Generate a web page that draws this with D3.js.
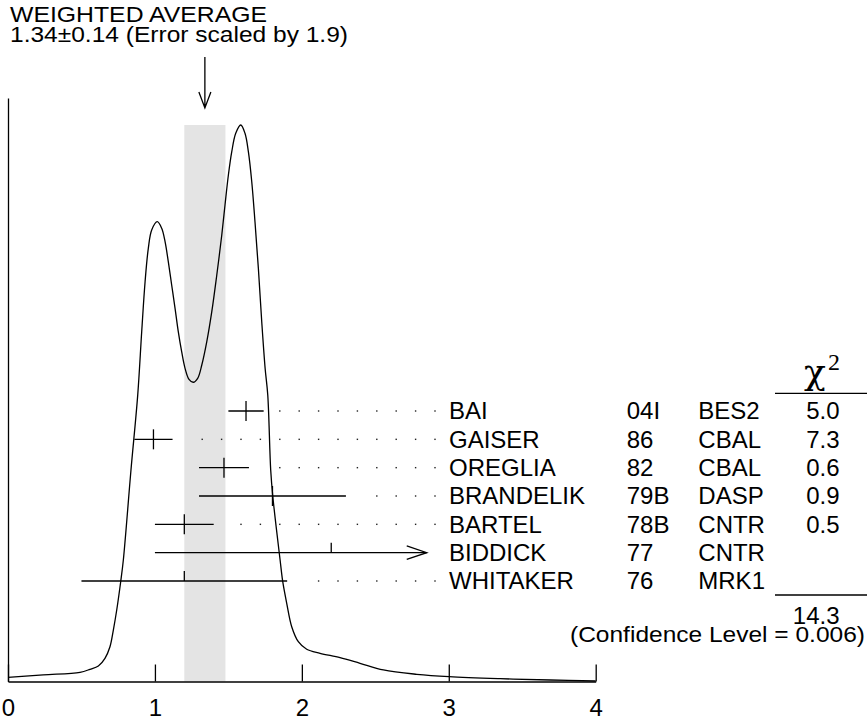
<!DOCTYPE html>
<html><head><meta charset="utf-8">
<script src="https://cdn.jsdelivr.net/npm/d3@7"></script>
<style>
body{margin:0;background:#fff;}
svg text{font-family:"Liberation Sans",Arial,Helvetica,sans-serif;fill:#000;}
</style></head>
<body><svg id="c" width="867" height="721"></svg>
<script>
// ---- data ----
const names = ["BAI","GAISER","OREGLIA","BRANDELIK","BARTEL","BIDDICK","WHITAKER"];
const years = ["04I","86","82","79B","78B","77","76"];
const experiments = ["BES2","CBAL","CBAL","DASP","CNTR","CNTR","MRK1"];
const values = [1.62,0.99,1.47,1.80,1.20,2.20,1.20];
const errLo  = [0.12,0.13,0.17,0.50,0.20,1.20,0.70];
const errHi  = [0.12,0.13,0.17,0.50,0.20,2.00,0.70];
const chi2   = ["5.0","7.3","0.6","0.9","0.5","",""];
const usedInAverage = [true,true,true,true,true,false,false];
const chi2Total = "14.3";
const confidenceLevel = "0.006";
const average = 1.34, averageErr = 0.14, errorScale = 1.9;
const xTicks = [0,1,2,3,4];
const ideogramX = [0,0.24,0.49,0.558,0.615,0.66,0.694,0.717,0.74,0.767,0.785,0.837,0.883,0.91,0.933,0.955,0.978,1.016,1.046,1.069,1.091,1.114,1.137,1.159,1.182,1.205,1.232,1.261,1.291,1.319,1.353,1.387,1.421,1.455,1.477,1.5,1.523,1.55,1.584,1.613,1.636,1.659,1.681,1.704,1.727,1.75,1.768,1.788,1.802,1.852,1.87,1.897,1.931,1.976,2.033,2.124,2.26,2.396,2.555,2.782,3.002,3.349,3.69,4.0];
const ideogramY = [0.0075,0.012,0.0165,0.0219,0.0279,0.0417,0.0625,0.0925,0.1285,0.1793,0.2183,0.38,0.515,0.6286,0.7184,0.7784,0.8113,0.8262,0.8144,0.7903,0.7544,0.7125,0.6706,0.6286,0.5926,0.5628,0.543,0.5377,0.5448,0.5687,0.6106,0.6645,0.7305,0.8023,0.8562,0.9101,0.952,0.9851,1.0,0.9851,0.952,0.8981,0.8262,0.7425,0.6465,0.5628,0.5148,0.3801,0.3333,0.2183,0.1793,0.1405,0.0985,0.0715,0.0579,0.0507,0.0428,0.0327,0.0207,0.0129,0.0086,0.005,0.0027,0.0009];
const barLimit = 2.85;

// ---- layout ----
const svg = d3.select("#c");
const x = d3.scaleLinear().domain([0,4]).range([8,595.7]);
const yD = d3.scaleLinear().domain([0,1]).range([681.5,125]);
const yRow = d3.scalePoint().domain(names).range([411,581]);
const FS = 24;
const sw = 1.3;

// band
svg.append("rect").attr("x",x(average-averageErr)).attr("width",x(average+averageErr)-x(average-averageErr))
  .attr("y",yD(1)).attr("height",yD(0)-yD(1)).attr("fill","#e4e4e4");

// ideogram curve
const pts = ideogramX.map((v,i)=>[v,ideogramY[i]]);
svg.append("path").datum(pts)
  .attr("d",d3.line().x(d=>x(d[0])).y(d=>yD(d[1])).curve(d3.curveCatmullRom.alpha(0.5)))
  .attr("fill","none").attr("stroke","#000").attr("stroke-width",sw);

// axes
const xAxis = d3.axisBottom(x).tickValues(xTicks).tickFormat(d3.format("d"))
  .tickSizeInner(-17).tickSizeOuter(0).tickPadding(17.5);
const gx = svg.append("g").attr("transform","translate(0,681.5)").call(xAxis);
gx.selectAll("path,line").attr("stroke","#000").attr("stroke-width",sw);
gx.selectAll("text").attr("font-size",FS).attr("font-family","Liberation Sans, Arial, sans-serif").attr("fill","#000");

const yAxisScale = d3.scaleLinear().domain([0,1]).range([681.5,98]);
const gy = svg.append("g").attr("transform","translate(8,0)")
  .call(d3.axisLeft(yAxisScale).tickValues([]).tickSizeOuter(0));
gy.selectAll("path").attr("stroke","#000").attr("stroke-width",sw);

// title
svg.append("text").attr("x",10).attr("y",22).attr("font-size",22.5).attr("textLength",257).attr("lengthAdjust","spacingAndGlyphs").text("WEIGHTED AVERAGE");
svg.append("text").attr("x",10).attr("y",42).attr("font-size",22.5).attr("textLength",338).attr("lengthAdjust","spacingAndGlyphs")
  .text(`${average.toFixed(2)}\u00b1${averageErr.toFixed(2)} (Error scaled by ${errorScale})`);
// arrow
const ax = x(average);
svg.append("path").attr("d",`M${ax},57V108M${ax-6},92L${ax},108L${ax+6},92`)
  .attr("fill","none").attr("stroke","#000").attr("stroke-width",sw);

// measurements
const dotEnd = 435, dotStep = 19.4;
names.forEach((n,i)=>{
  const yy = yRow(n);
  const lo = x(values[i]-errLo[i]);
  const hiV = values[i]+errHi[i];
  const clipped = hiV > barLimit;
  const hi = x(Math.min(hiV,barLimit));
  const g = svg.append("g");
  g.append("line").attr("x1",lo).attr("x2",hi).attr("y1",yy).attr("y2",yy)
    .attr("stroke","#000").attr("stroke-width",sw);
  const cx = x(values[i]);
  g.append("line").attr("x1",cx).attr("x2",cx).attr("y1",yy-10).attr("y2",usedInAverage[i]?yy+10:yy)
    .attr("stroke","#000").attr("stroke-width",sw);
  if(clipped){
    g.append("path").attr("d",`M${hi-20},${yy-6.7}L${hi},${yy}L${hi-20},${yy+6.7}`)
      .attr("fill","none").attr("stroke","#000").attr("stroke-width",sw);
  } else {
    for(let dx=dotEnd; dx>=hi+13; dx-=dotStep){
      g.append("rect").attr("x",dx-0.7).attr("y",yy-0.7).attr("width",1.4).attr("height",1.4).attr("fill","#222");
    }
  }
  svg.append("text").attr("x",449).attr("y",yy+8.3).attr("font-size",FS).text(n);
  svg.append("text").attr("x",626.7).attr("y",yy+8.3).attr("font-size",FS).text(years[i]);
  svg.append("text").attr("x",698.3).attr("y",yy+8.3).attr("font-size",FS).text(experiments[i]);
  if(chi2[i]) svg.append("text").attr("x",839.5).attr("y",yy+8.3).attr("font-size",FS).attr("text-anchor","end").text(chi2[i]);
});

// chi2 header
svg.append("text").attr("x",815).attr("y",384).attr("font-size",36).attr("text-anchor","middle")
  .style("font-family","DejaVu Serif, serif").text("\u03c7");
svg.append("text").attr("x",828).attr("y",370).attr("font-size",24)
  .style("font-family","Liberation Serif, Times New Roman, serif").text("2");
svg.append("line").attr("x1",775).attr("x2",867).attr("y1",393.3).attr("y2",393.3).attr("stroke","#000").attr("stroke-width",sw);
svg.append("line").attr("x1",775).attr("x2",867).attr("y1",595).attr("y2",595).attr("stroke","#000").attr("stroke-width",sw);
svg.append("text").attr("x",839.5).attr("y",623.5).attr("font-size",FS).attr("text-anchor","end").text(chi2Total);
svg.append("text").attr("x",865).attr("y",642).attr("font-size",22.5).attr("text-anchor","end")
  .attr("textLength",295).attr("lengthAdjust","spacingAndGlyphs")
  .text(`(Confidence Level = ${confidenceLevel})`);
</script></body></html>
